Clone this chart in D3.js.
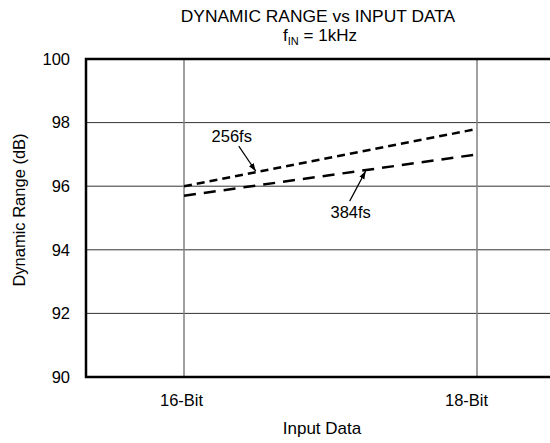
<!DOCTYPE html>
<html>
<head>
<meta charset="utf-8">
<script src="https://cdn.jsdelivr.net/npm/d3@7"></script>
<style>
  body { margin: 0; background: #fff; }
  svg { font-family: "Liberation Sans", Arial, sans-serif; }
</style>
</head>
<body>
<script>
// chart data
var bits = [16, 18];
var bitLabels = ["16-Bit", "18-Bit"];
var range256 = [96.0, 97.8];
var range384 = [95.7, 97.0];
var yTicks = [90, 92, 94, 96, 98, 100];

var svgWidth = 550;
var svgHeight = 443;
var fontSize = "16.5px";

var svg = d3.select("body")
  .append("svg")
  .attr("width", svgWidth)
  .attr("height", svgHeight);

// plot frame
var plotLeft = 86, plotTop = 59, plotBottom = 377, plotRight = 560;

var x = d3.scaleLinear().domain([16, 18]).range([184, 477]);
var y = d3.scaleLinear().domain([90, 100]).range([plotBottom, plotTop]);

// gridlines
svg.append("g")
  .selectAll("line")
  .data(yTicks.slice(1, -1))
  .enter()
  .append("line")
  .attr("x1", plotLeft).attr("x2", plotRight)
  .attr("y1", d => y(d)).attr("y2", d => y(d))
  .attr("stroke", "#333")
  .attr("stroke-width", 1);

svg.append("g")
  .selectAll("line")
  .data(bits)
  .enter()
  .append("line")
  .attr("x1", d => x(d)).attr("x2", d => x(d))
  .attr("y1", plotTop).attr("y2", plotBottom)
  .attr("stroke", "#808080")
  .attr("stroke-width", 1.5);

// axes
var leftAxis = d3.axisLeft(y).tickValues(yTicks).tickSize(0).tickPadding(16);
var gy = svg.append("g")
  .attr("transform", `translate(${plotLeft},0)`)
  .call(leftAxis);
gy.select(".domain").remove();
gy.selectAll("text").attr("font-size", fontSize).attr("fill", "#000").attr("font-family", "Liberation Sans, Arial, sans-serif");

// the labels in the original sit a little left of their gridlines
var labelShift = [-3, -11];
var bottomAxis = d3.axisBottom(x).tickValues(bits).tickSize(0).tickPadding(17)
  .tickFormat((d, i) => bitLabels[i]);
var gx = svg.append("g")
  .attr("transform", `translate(0,${plotBottom})`)
  .call(bottomAxis);
gx.select(".domain").remove();
gx.selectAll("text")
  .attr("font-size", fontSize).attr("fill", "#000")
  .attr("font-family", "Liberation Sans, Arial, sans-serif")
  .attr("dx", (d, i) => labelShift[i]);

// frame (left, top, bottom)
svg.append("path")
  .attr("d", `M${plotRight},${plotTop}H${plotLeft}V${plotBottom}H${plotRight}`)
  .attr("fill", "none")
  .attr("stroke", "#000")
  .attr("stroke-width", 2.5);

// data lines
var line = d3.line().x((d, i) => x(bits[i])).y(d => y(d));

svg.append("path")
  .datum(range256)
  .attr("d", line)
  .attr("fill", "none")
  .attr("stroke", "#000")
  .attr("stroke-width", 2.5)
  .attr("stroke-dasharray", "8,5");

svg.append("path")
  .datum(range384)
  .attr("d", line)
  .attr("fill", "none")
  .attr("stroke", "#000")
  .attr("stroke-width", 2.5)
  .attr("stroke-dasharray", "12,8");

// arrowheads
svg.append("defs").append("marker")
  .attr("id", "arrow")
  .attr("viewBox", "0 0 10 10")
  .attr("refX", 10).attr("refY", 5)
  .attr("markerWidth", 8).attr("markerHeight", 8)
  .attr("markerUnits", "userSpaceOnUse")
  .attr("orient", "auto")
  .append("path")
  .attr("d", "M0,1.5L10,5L0,8.5Z")
  .attr("fill", "#000");

function valueAt(series, b) {
  var t = (b - bits[0]) / (bits[1] - bits[0]);
  return series[0] + t * (series[1] - series[0]);
}

var notes = [
  { text: "256fs", series: range256, at: 16.49, tx: -24, ty: -30, ax: -17, ay: -26 },
  { text: "384fs", series: range384, at: 17.24, tx: -15, ty: 48, ax: -16, ay: 31 }
];

notes.forEach(function(n) {
  var px = x(n.at), py = y(valueAt(n.series, n.at));
  svg.append("line")
    .attr("x1", px + n.ax).attr("y1", py + n.ay)
    .attr("x2", px).attr("y2", py - (n.ay < 0 ? 1 : -1))
    .attr("stroke", "#000")
    .attr("stroke-width", 1.2)
    .attr("marker-end", "url(#arrow)");
  svg.append("text")
    .attr("x", px + n.tx).attr("y", py + n.ty)
    .attr("text-anchor", "middle")
    .attr("font-size", fontSize)
    .text(n.text);
});

// titles
svg.append("text")
  .attr("x", 318).attr("y", 22)
  .attr("text-anchor", "middle")
  .attr("font-size", "17.4px")
  .text("DYNAMIC RANGE vs INPUT DATA");

var sub = svg.append("text")
  .attr("x", 320).attr("y", 41)
  .attr("text-anchor", "middle")
  .attr("font-size", "17px");
sub.append("tspan").text("f");
sub.append("tspan").attr("dy", 4).attr("font-size", "11px").text("IN");
sub.append("tspan").attr("dy", -4).text(" = 1kHz");

svg.append("text")
  .attr("x", 322).attr("y", 434)
  .attr("text-anchor", "middle")
  .attr("font-size", "17px")
  .text("Input Data");

svg.append("text")
  .attr("transform", "translate(25,210) rotate(-90)")
  .attr("text-anchor", "middle")
  .attr("font-size", fontSize)
  .text("Dynamic Range (dB)");
</script>
</body>
</html>
